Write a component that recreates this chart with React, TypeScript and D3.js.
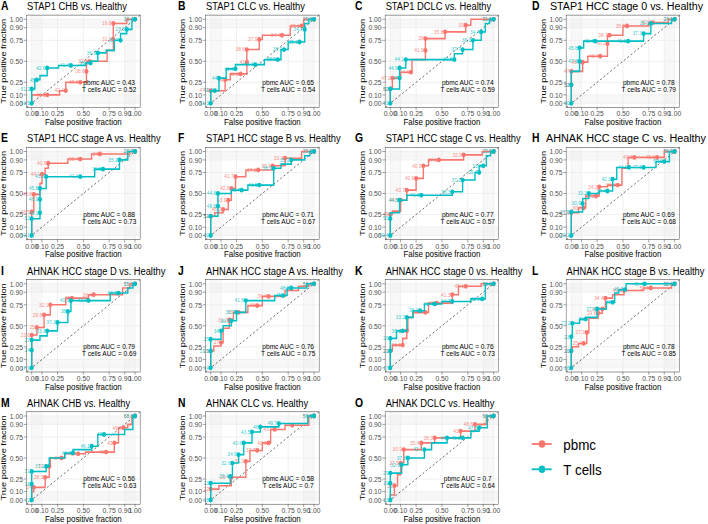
import React from 'react'
import * as d3 from 'd3'

// the source figure is squeezed sideways, so the svg gets the same squeeze
const K = 0.865
const W = 708
const H = 524

const tags = ['A', 'B', 'C', 'D', 'E', 'F', 'G', 'H', 'I', 'J', 'K', 'L', 'M', 'N', 'O']
const titles = [
  'STAP1 CHB vs. Healthy', 'STAP1 CLC vs. Healthy', 'STAP1 DCLC vs. Healthy', 'STAP1 HCC stage 0 vs. Healthy',
  'STAP1 HCC stage A vs. Healthy', 'STAP1 HCC stage B vs. Healthy', 'STAP1 HCC stage C vs. Healthy', 'AHNAK HCC stage C vs. Healthy',
  'AHNAK HCC stage D vs. Healthy', 'AHNAK HCC stage A vs. Healthy', 'AHNAK HCC stage 0 vs. Healthy', 'AHNAK HCC stage B vs. Healthy',
  'AHNAK CHB vs. Healthy', 'AHNAK CLC vs. Healthy', 'AHNAK DCLC vs. Healthy',
]
const aucPbmc = ['0.43', '0.65', '0.74', '0.78', '0.88', '0.71', '0.77', '0.69', '0.79', '0.76', '0.76', '0.78', '0.56', '0.58', '0.7']
const aucT = ['0.52', '0.54', '0.59', '0.79', '0.73', '0.67', '0.57', '0.68', '0.69', '0.75', '0.73', '0.85', '0.63', '0.7', '0.64']
const groups = ['pbmc', 'T cells']
const colors = ['#F8766D', '#00BFC4']
const majorBreaks = [0, 0.1, 0.25, 0.5, 0.75, 0.9, 1]
const minorBreaks = [1, 2, 3, 4, 5, 6, 7, 8, 9, 91, 92, 93, 94, 95, 96, 97, 98, 99].map((v) => v / 100)

// ROC paths: [false positive fraction, true positive fraction, cutoff label]
const pbmcA = [[0,0],[0,0.1],[0.15,0.1,'46.1'],[0.27,0.1],[0.27,0.15],[0.33,0.15,'42.4'],[0.33,0.25],[0.47,0.25,'39.6'],[0.53,0.25],[0.53,0.38,'36.6'],[0.53,0.5],[0.56,0.5,'32.5'],[0.73,0.5],[0.73,0.63],[0.79,0.63],[0.79,0.76,'31.2'],[0.79,0.95,'19.8'],[0.92,0.95],[0.92,1],[1,1,'16.4']]
const tcellA = [[0,0,'63.5'],[0,0.17,'51.2'],[0.03,0.17],[0.03,0.28],[0.05,0.28,'45'],[0.08,0.28],[0.08,0.33],[0.15,0.33],[0.15,0.42,'42.6'],[0.26,0.42],[0.26,0.45],[0.38,0.45,'41.4'],[0.52,0.45],[0.52,0.48],[0.57,0.48,'38.1'],[0.57,0.5],[0.64,0.5],[0.64,0.6,'36.9'],[0.72,0.6],[0.72,0.63],[0.8,0.63],[0.8,0.75],[0.86,0.75,'33.7'],[0.86,0.83],[0.92,0.83],[0.92,0.88,'29.5'],[0.97,0.88],[0.97,1],[1,1,'16.4']]
const pbmcB = [[0,0],[0,0.15,'47.2'],[0.14,0.15],[0.14,0.28,'44'],[0.19,0.28],[0.19,0.35],[0.29,0.35,'43.5'],[0.35,0.35],[0.35,0.49,'41'],[0.35,0.64,'38.6'],[0.47,0.64],[0.47,0.76,'37.9'],[0.5,0.76],[0.5,0.81],[0.69,0.81,'34.4'],[0.77,0.81],[0.77,0.92],[0.88,0.92,'29.6'],[0.9,0.92],[0.9,1],[1,1,'20.3']]
const tcellB = [[0,0,'61.3'],[0,0.15],[0.04,0.15,'46.2'],[0.08,0.15],[0.08,0.3,'44'],[0.15,0.3],[0.15,0.41],[0.24,0.41,'42.6'],[0.24,0.46],[0.43,0.46,'41.4'],[0.52,0.46],[0.52,0.52],[0.65,0.52,'38.5'],[0.68,0.52],[0.68,0.64],[0.71,0.64,'36.2'],[0.75,0.64],[0.75,0.73],[0.86,0.73,'35.1'],[0.91,0.73],[0.91,0.88,'34.7'],[0.91,0.95],[0.95,0.95],[0.95,1],[1,1,'20.3']]
const pbmcC = [[0,0],[0,0.17,'62'],[0.02,0.17],[0.02,0.3,'47.1'],[0.1,0.3],[0.1,0.37],[0.2,0.37,'44.6'],[0.21,0.37],[0.21,0.52],[0.34,0.52],[0.34,0.63,'41.9'],[0.34,0.77,'38'],[0.53,0.77],[0.53,0.85,'35.8'],[0.73,0.85],[0.73,0.93,'33'],[0.78,0.93],[0.78,1],[1,1,'21.5']]
const tcellC = [[0,0,'61'],[0,0.17,'50'],[0.09,0.17],[0.09,0.3,'47'],[0.09,0.42,'44.9'],[0.15,0.42],[0.15,0.52,'44.1'],[0.62,0.52,'39.5'],[0.62,0.59],[0.7,0.59],[0.7,0.64,'37.7'],[0.8,0.64],[0.8,0.75,'36.1'],[0.88,0.75],[0.88,0.85,'34.4'],[0.92,0.85],[0.92,0.95],[0.96,0.95],[0.96,1],[1,1,'21.5']]
const pbmcD = [[0,0],[0,0.22,'52'],[0,0.38,'47'],[0.11,0.38],[0.11,0.49,'45.3'],[0.16,0.49],[0.16,0.56],[0.28,0.56,'43.4'],[0.35,0.56],[0.35,0.71,'40.2'],[0.35,0.81],[0.37,0.81,'38.7'],[0.5,0.81],[0.5,0.92],[0.54,0.92,'35.5'],[0.75,0.92],[0.75,0.96],[0.79,0.96,'32.9'],[0.94,0.96],[0.94,1],[1,1,'24.1']]
const tcellD = [[0,0,'60'],[0,0.22,'51'],[0,0.38],[0.08,0.38],[0.08,0.5,'47.8'],[0.08,0.66,'45.8'],[0.12,0.66],[0.12,0.74],[0.23,0.74,'42.4'],[0.55,0.74,'41.1'],[0.7,0.74],[0.7,0.83,'37.3'],[0.77,0.83],[0.77,0.95,'35.1'],[0.97,0.95],[0.97,1],[1,1,'24.1']]
const pbmcE = [[0,0],[0,0.28,'48.5'],[0.02,0.28],[0.02,0.49,'45.8'],[0.08,0.49],[0.08,0.62],[0.1,0.62],[0.1,0.73,'44.1'],[0.13,0.73],[0.13,0.8],[0.16,0.8],[0.16,0.86,'40.6'],[0.35,0.86],[0.35,0.91],[0.47,0.91,'38.4'],[0.58,0.91],[0.58,0.97],[0.66,0.97,'34'],[0.95,0.97],[0.95,1],[1,1,'20.7']]
const tcellE = [[0,0,'60.1'],[0,0.2,'52'],[0.08,0.2],[0.08,0.27,'48.1'],[0.08,0.43,'46.9'],[0.08,0.56,'45.8'],[0.14,0.56],[0.14,0.7,'43.2'],[0.47,0.7,'41.4'],[0.61,0.7],[0.61,0.79],[0.69,0.79,'39.5'],[0.85,0.79],[0.85,0.9,'35.2'],[0.93,0.9],[0.93,1],[1,1,'20.7']]
const pbmcF = [[0,0],[0,0.23,'51'],[0.04,0.23],[0.04,0.27],[0.12,0.27],[0.12,0.31,'45.2'],[0.17,0.31],[0.17,0.42,'43.9'],[0.2,0.42],[0.2,0.56,'42.8'],[0.24,0.56],[0.24,0.7,'41.7'],[0.34,0.7],[0.34,0.78],[0.46,0.78,'37.6'],[0.6,0.78],[0.6,0.83,'35.9'],[0.72,0.83],[0.72,0.92,'33.3'],[0.88,0.92],[0.88,1],[1,1,'29.6']]
const tcellF = [[0,0,'60'],[0,0.23,'52'],[0.07,0.23],[0.07,0.35,'48.6'],[0.07,0.5,'44.6'],[0.2,0.5],[0.2,0.54],[0.3,0.54,'43.7'],[0.36,0.54],[0.36,0.6],[0.47,0.6,'41.5'],[0.61,0.6],[0.61,0.8,'38.9'],[0.68,0.8],[0.68,0.85],[0.78,0.85],[0.78,0.9,'35.2'],[0.91,0.9],[0.91,0.95],[0.96,0.95],[0.96,1],[1,1,'29.6']]
const pbmcG = [[0,0],[0,0.25,'49'],[0.02,0.25],[0.02,0.29],[0.1,0.29],[0.1,0.42,'44.5'],[0.16,0.42],[0.16,0.54,'43.7'],[0.25,0.54],[0.25,0.68,'42.9'],[0.32,0.68],[0.32,0.83,'40.9'],[0.37,0.83],[0.37,0.9],[0.47,0.9,'37.9'],[0.71,0.9],[0.71,0.96,'32.8'],[0.89,0.96],[0.89,1],[1,1,'23.5']]
const tcellG = [[0,0,'60.4'],[0,0.2,'50'],[0,0.27],[0.09,0.27],[0.09,0.42,'44.6'],[0.16,0.42],[0.16,0.48],[0.3,0.48,'41.6'],[0.6,0.48],[0.6,0.52,'38.3'],[0.7,0.52],[0.7,0.66,'37.1'],[0.82,0.66],[0.82,0.75],[0.86,0.75,'35.4'],[0.86,0.83],[0.9,0.83,'33.9'],[0.93,0.83],[0.93,0.95],[0.97,0.95],[0.97,1],[1,1,'23.5']]
const pbmcH = [[0,0],[0,0.27,'27.4'],[0.07,0.27],[0.07,0.33],[0.12,0.33,'30.6'],[0.14,0.33],[0.14,0.47],[0.24,0.47,'33.5'],[0.27,0.47],[0.27,0.58,'34.2'],[0.35,0.58],[0.35,0.6],[0.45,0.6,'36.8'],[0.49,0.6],[0.49,0.8],[0.55,0.8],[0.55,0.93],[0.61,0.93,'40.2'],[0.83,0.93,'45.6'],[0.9,0.93],[0.9,1],[1,1,'56.9']]
const tcellH = [[0,0,'20.1'],[0,0.28,'27.5'],[0.11,0.28],[0.11,0.38,'30.9'],[0.11,0.44],[0.17,0.44],[0.17,0.5,'33.2'],[0.27,0.5],[0.27,0.53],[0.35,0.53,'37.4'],[0.4,0.53],[0.4,0.67,'42.3'],[0.44,0.67],[0.44,0.81],[0.56,0.81,'44.9'],[0.7,0.81,'47.6'],[0.82,0.81],[0.82,0.88],[0.9,0.88,'50.8'],[0.95,0.88],[0.95,1],[1,1,'56.9']]
const pbmcI = [[0,0],[0,0.39,'23.6'],[0.05,0.39],[0.05,0.48,'25'],[0.12,0.48],[0.12,0.63,'28.8'],[0.18,0.63],[0.18,0.75,'32.1'],[0.33,0.75],[0.33,0.83],[0.39,0.83,'35'],[0.55,0.83],[0.55,0.87],[0.6,0.87,'38.4'],[0.88,0.87],[0.88,0.95],[0.95,0.95],[0.95,1],[1,1,'55.2']]
const tcellI = [[0,0,'17.9'],[0,0.21,'24'],[0,0.33,'27'],[0.08,0.33],[0.08,0.38],[0.15,0.38],[0.15,0.44,'33.3'],[0.25,0.44],[0.25,0.54,'37.3'],[0.35,0.54],[0.35,0.67,'38'],[0.38,0.67],[0.38,0.8,'40.1'],[0.55,0.8,'41.9'],[0.76,0.8],[0.76,0.89],[0.84,0.89,'46.2'],[0.93,0.89],[0.93,0.95],[0.98,0.95],[0.98,1],[1,1,'55.2']]
const pbmcJ = [[0,0],[0,0.2,'19'],[0.03,0.2],[0.03,0.26],[0.1,0.26],[0.1,0.3,'27'],[0.12,0.3],[0.12,0.47],[0.18,0.47],[0.18,0.57,'31.2'],[0.22,0.57],[0.22,0.66],[0.27,0.66,'33.9'],[0.36,0.66],[0.36,0.74],[0.45,0.74,'36'],[0.5,0.74],[0.5,0.85],[0.56,0.85,'39.4'],[0.72,0.85],[0.72,0.92],[0.85,0.92],[0.85,0.97],[0.95,0.97],[0.95,1],[1,1,'56.3']]
const tcellJ = [[0,0,'14'],[0,0.2,'19.5'],[0,0.34,'25'],[0.1,0.34],[0.1,0.44,'34'],[0.12,0.44],[0.12,0.5],[0.2,0.5],[0.2,0.56,'36.5'],[0.25,0.56],[0.25,0.66,'38.2'],[0.34,0.66],[0.34,0.8,'41.8'],[0.62,0.8],[0.62,0.86],[0.7,0.86,'45'],[0.74,0.86],[0.74,0.95],[0.78,0.95,'48.3'],[0.93,0.95],[0.93,1],[1,1,'56.3']]
const pbmcK = [[0,0],[0,0.2,'20'],[0.02,0.2],[0.02,0.27],[0.12,0.27,'26.6'],[0.12,0.35],[0.16,0.35],[0.16,0.44,'32'],[0.17,0.44],[0.17,0.6],[0.22,0.6],[0.22,0.66],[0.34,0.66,'35.6'],[0.37,0.66],[0.37,0.77],[0.45,0.77,'38'],[0.6,0.77],[0.6,0.87,'41.3'],[0.66,0.87],[0.66,0.97],[0.73,0.97,'45.1'],[0.88,0.97],[0.88,1],[1,1,'58.6']]
const tcellK = [[0,0,'17'],[0,0.2,'21'],[0,0.35,'26'],[0.06,0.35],[0.06,0.44],[0.12,0.44,'30.2'],[0.16,0.44],[0.16,0.6,'33.2'],[0.22,0.6],[0.22,0.68],[0.29,0.68,'36.3'],[0.33,0.68],[0.33,0.76],[0.43,0.76,'40.4'],[0.5,0.76],[0.5,0.79],[0.6,0.79,'44.7'],[0.78,0.79],[0.78,0.82],[0.89,0.82,'52.8'],[0.92,0.82],[0.92,1],[1,1,'58.6']]
const pbmcL = [[0,0],[0,0.2,'21'],[0.01,0.2],[0.01,0.25],[0.07,0.25],[0.07,0.29],[0.12,0.29,'25.4'],[0.15,0.29],[0.15,0.42,'27.9'],[0.17,0.42],[0.17,0.59],[0.26,0.59],[0.26,0.65,'29.6'],[0.3,0.65],[0.3,0.7,'31.8'],[0.33,0.7],[0.33,0.83,'34.4'],[0.4,0.83],[0.4,0.87],[0.51,0.87],[0.51,0.92,'40.2'],[0.7,0.92],[0.7,0.95],[0.77,0.95,'50.3'],[0.97,0.95],[0.97,1],[1,1,'58.6']]
const tcellL = [[0,0,'16'],[0,0.2,'20'],[0,0.37,'23'],[0.01,0.37],[0.01,0.53,'27.2'],[0.08,0.53],[0.08,0.58],[0.14,0.58,'31'],[0.14,0.6],[0.25,0.6],[0.25,0.7,'37.4'],[0.34,0.7],[0.34,0.78],[0.4,0.78,'40'],[0.42,0.78],[0.42,0.89],[0.46,0.89],[0.46,0.93],[0.52,0.93,'45.3'],[0.53,0.93],[0.53,1],[0.71,1,'49.4'],[1,1,'58.6']]
const pbmcM = [[0,0],[0,0.1],[0.02,0.1],[0.02,0.15,'24'],[0.13,0.15],[0.13,0.27,'28.3'],[0.17,0.27],[0.17,0.4,'31.7'],[0.18,0.4],[0.18,0.5],[0.29,0.5,'34'],[0.32,0.5],[0.32,0.55],[0.45,0.55,'37'],[0.52,0.55],[0.52,0.57],[0.72,0.57,'40'],[0.8,0.57],[0.8,0.68,'43'],[0.84,0.68],[0.84,0.86],[0.89,0.86,'49.9'],[0.93,0.86],[0.93,0.9],[0.97,0.9],[0.97,1],[1,1,'68.6']]
const tcellM = [[0,0,'12'],[0,0.19,'18'],[0,0.34,'31'],[0.14,0.34],[0.14,0.4,'37.2'],[0.17,0.4],[0.17,0.5],[0.32,0.5],[0.32,0.56],[0.4,0.56,'43.3'],[0.4,0.6],[0.58,0.6],[0.58,0.64,'46.1'],[0.64,0.64],[0.64,0.78],[0.7,0.78,'48'],[0.9,0.78],[0.9,0.84],[0.98,0.84],[0.98,1],[1,1,'68.6']]
const pbmcN = [[0,0],[0,0.13,'22'],[0.08,0.13],[0.08,0.17],[0.2,0.17],[0.2,0.27,'29.4'],[0.34,0.27],[0.34,0.46,'35.3'],[0.38,0.46],[0.38,0.59],[0.45,0.59,'37.7'],[0.5,0.59],[0.5,0.68],[0.56,0.68,'40.3'],[0.58,0.68],[0.58,0.84],[0.62,0.84,'43.9'],[0.72,0.84],[0.72,0.89],[0.79,0.89,'47'],[0.95,0.89],[0.95,1],[1,1,'56.5']]
const tcellN = [[0,0,'18'],[0,0.2,'23'],[0.19,0.2],[0.19,0.28,'29.4'],[0.21,0.28],[0.21,0.44,'32.6'],[0.27,0.44],[0.27,0.54,'34.9'],[0.32,0.54],[0.32,0.68,'40.6'],[0.4,0.68],[0.4,0.81,'43.5'],[0.48,0.81],[0.48,0.87,'46'],[0.66,0.87],[0.66,0.91,'49.7'],[0.94,0.91],[0.94,1],[1,1,'56.5']]
const pbmcO = [[0,0],[0,0.06],[0.04,0.06],[0.04,0.17,'23'],[0.07,0.17],[0.07,0.3],[0.1,0.3],[0.1,0.44,'27.5'],[0.13,0.44],[0.13,0.6,'30.9'],[0.3,0.6],[0.3,0.68,'35.4'],[0.43,0.68],[0.43,0.74,'38.3'],[0.68,0.74],[0.68,0.82,'43'],[0.82,0.82],[0.82,0.9,'46.6'],[0.93,0.9],[0.93,1],[1,1,'68.6']]
const tcellO = [[0,0,'13'],[0,0.2,'19'],[0,0.32,'29'],[0.11,0.32],[0.11,0.42,'32.9'],[0.17,0.42],[0.17,0.5,'37.8'],[0.33,0.5],[0.33,0.6,'42.1'],[0.4,0.6],[0.4,0.68],[0.55,0.68],[0.55,0.74,'44'],[0.7,0.74,'45.2'],[0.78,0.74],[0.78,0.82],[0.86,0.82],[0.86,0.86,'47.5'],[0.94,0.86],[0.94,1],[1,1,'68.6']]

const pbmcCurves = [pbmcA, pbmcB, pbmcC, pbmcD, pbmcE, pbmcF, pbmcG, pbmcH, pbmcI, pbmcJ, pbmcK, pbmcL, pbmcM, pbmcN, pbmcO]
const tcellCurves = [tcellA, tcellB, tcellC, tcellD, tcellE, tcellF, tcellG, tcellH, tcellI, tcellJ, tcellK, tcellL, tcellM, tcellN, tcellO]

// layout, in screen pixels
const colX0 = [31.7, 210.7, 390.3, 571.3]
const rowY1 = [19.3, 151.5, 283.8, 416]
const PW = 103.3
const PH = 84
const FONT = 'Liberation Sans, Arial, Helvetica, sans-serif'
const fmt = d3.format('.2f')

function Panel({ i }) {
  const col = i % 4
  const row = Math.floor(i / 4)
  const x = d3.scaleLinear().domain([0, 1]).range([colX0[col] / K, (colX0[col] + PW) / K])
  const y = d3.scaleLinear().domain([0, 1]).range([rowY1[row] + PH, rowY1[row]])
  const line = d3.line().x((d) => x(d[0])).y((d) => y(d[1]))
  const left = x(-0.05)
  const right = x(1.05)
  const top = y(1.05)
  const bottom = y(-0.05)
  const curves = [pbmcCurves[i], tcellCurves[i]]

  // D and H titles come out wider in the source
  let titleX = left + 0.5 / K
  let titleLen = null
  if (i === 3) { titleX = 550 / K; titleLen = 153 / K }
  if (i === 7) { titleX = 546 / K; titleLen = 160 / K }

  return (
    <g>
      <rect x={left} y={top} width={right - left} height={bottom - top} fill="#fff" />
      {minorBreaks.map((b) => (
        <g key={'mn' + b}>
          <line x1={x(b)} x2={x(b)} y1={top} y2={bottom} stroke="#EBEBEB" strokeWidth={0.4} />
          <line x1={left} x2={right} y1={y(b)} y2={y(b)} stroke="#EBEBEB" strokeWidth={0.4} />
        </g>
      ))}
      {majorBreaks.map((b) => (
        <g key={'mj' + b}>
          <line x1={x(b)} x2={x(b)} y1={top} y2={bottom} stroke="#EBEBEB" strokeWidth={0.8} />
          <line x1={left} x2={right} y1={y(b)} y2={y(b)} stroke="#EBEBEB" strokeWidth={0.8} />
        </g>
      ))}
      <line x1={x(-0.05)} y1={y(-0.05)} x2={x(1.05)} y2={y(1.05)} stroke="#000" strokeWidth={0.6} strokeDasharray="2.4,2.4" />
      {curves.map((c, k) => (
        <g key={'c' + k}>
          <path d={line(c)} fill="none" stroke={colors[k]} strokeWidth={1.6} />
          {c.filter((d) => d[2]).map((d, j) => (
            <g key={j}>
              <circle cx={x(d[0])} cy={y(d[1])} r={2.4} fill={colors[k]} />
              <text x={x(d[0]) - 1.8 / K} y={y(d[1]) + 1.8} textAnchor="end" fontSize={5.6} fill={colors[k]} fillOpacity={0.85}>{d[2]}</text>
            </g>
          ))}
        </g>
      ))}
      <text x={x(0.75)} y={y(0.255)} dy="0.35em" textAnchor="middle" fontSize={7.6} fill="#000">{`pbmc AUC = ${aucPbmc[i]}`}</text>
      <text x={x(0.75)} y={y(0.17)} dy="0.35em" textAnchor="middle" fontSize={7.6} fill="#000">{`T cells AUC = ${aucT[i]}`}</text>
      <rect x={left} y={top} width={right - left} height={bottom - top} fill="none" stroke="#333" strokeWidth={0.5} />
      {majorBreaks.map((b) => (
        <g key={'t' + b}>
          <line x1={left - 2.7 / K} x2={left} y1={y(b)} y2={y(b)} stroke="#333" strokeWidth={0.5} />
          <text x={left - 3.6 / K} y={y(b)} dy="0.35em" textAnchor="end" fontSize={7.8} fill="#4D4D4D">{fmt(b)}</text>
          <line x1={x(b)} x2={x(b)} y1={bottom} y2={bottom + 2.7} stroke="#333" strokeWidth={0.5} />
          <text x={x(b)} y={bottom + 8.9} textAnchor="middle" fontSize={7.8} fill="#4D4D4D">{fmt(b)}</text>
        </g>
      ))}
      <text x={x(0.5)} y={bottom + 17.6} textAnchor="middle" fontSize={9.2} fill="#000">False positive fraction</text>
      <text transform={`translate(${(colX0[col] - 28.5) / K},${y(0.5)}) rotate(-90)`} dy="0.35em" textAnchor="middle" fontSize={9.2} fill="#000">True positive fraction</text>
      <text x={(1 + col * 177) / K} y={rowY1[row] - 9} fontSize={12} fontWeight="bold" fill="#000">{tags[i]}</text>
      <text x={titleX} y={rowY1[row] - 9} fontSize={10.8} fill="#000"
        textLength={titleLen ?? undefined} lengthAdjust={titleLen ? 'spacingAndGlyphs' : undefined}>{titles[i]}</text>
    </g>
  )
}

function Legend() {
  const ly = [444, 469.3]
  return (
    <g>
      {groups.map((g, k) => (
        <g key={g}>
          <line x1={531.7 / K} x2={551.7 / K} y1={ly[k]} y2={ly[k]} stroke={colors[k]} strokeWidth={1.8} />
          <circle cx={542 / K} cy={ly[k]} r={3.8} fill={colors[k]} />
          <text x={563.3 / K} y={ly[k]} dy="0.36em" fontSize={15.5} fill="#000">{g}</text>
        </g>
      ))}
    </g>
  )
}

export default function App() {
  return (
    <svg
      width={W}
      height={H}
      viewBox={`0 0 ${W / K} ${H}`}
      preserveAspectRatio="none"
      style={{ position: 'absolute', left: 0, top: 0, background: '#fff', fontFamily: FONT }}
    >
      {titles.map((t, i) => <Panel key={t} i={i} />)}
      <Legend />
    </svg>
  )
}
